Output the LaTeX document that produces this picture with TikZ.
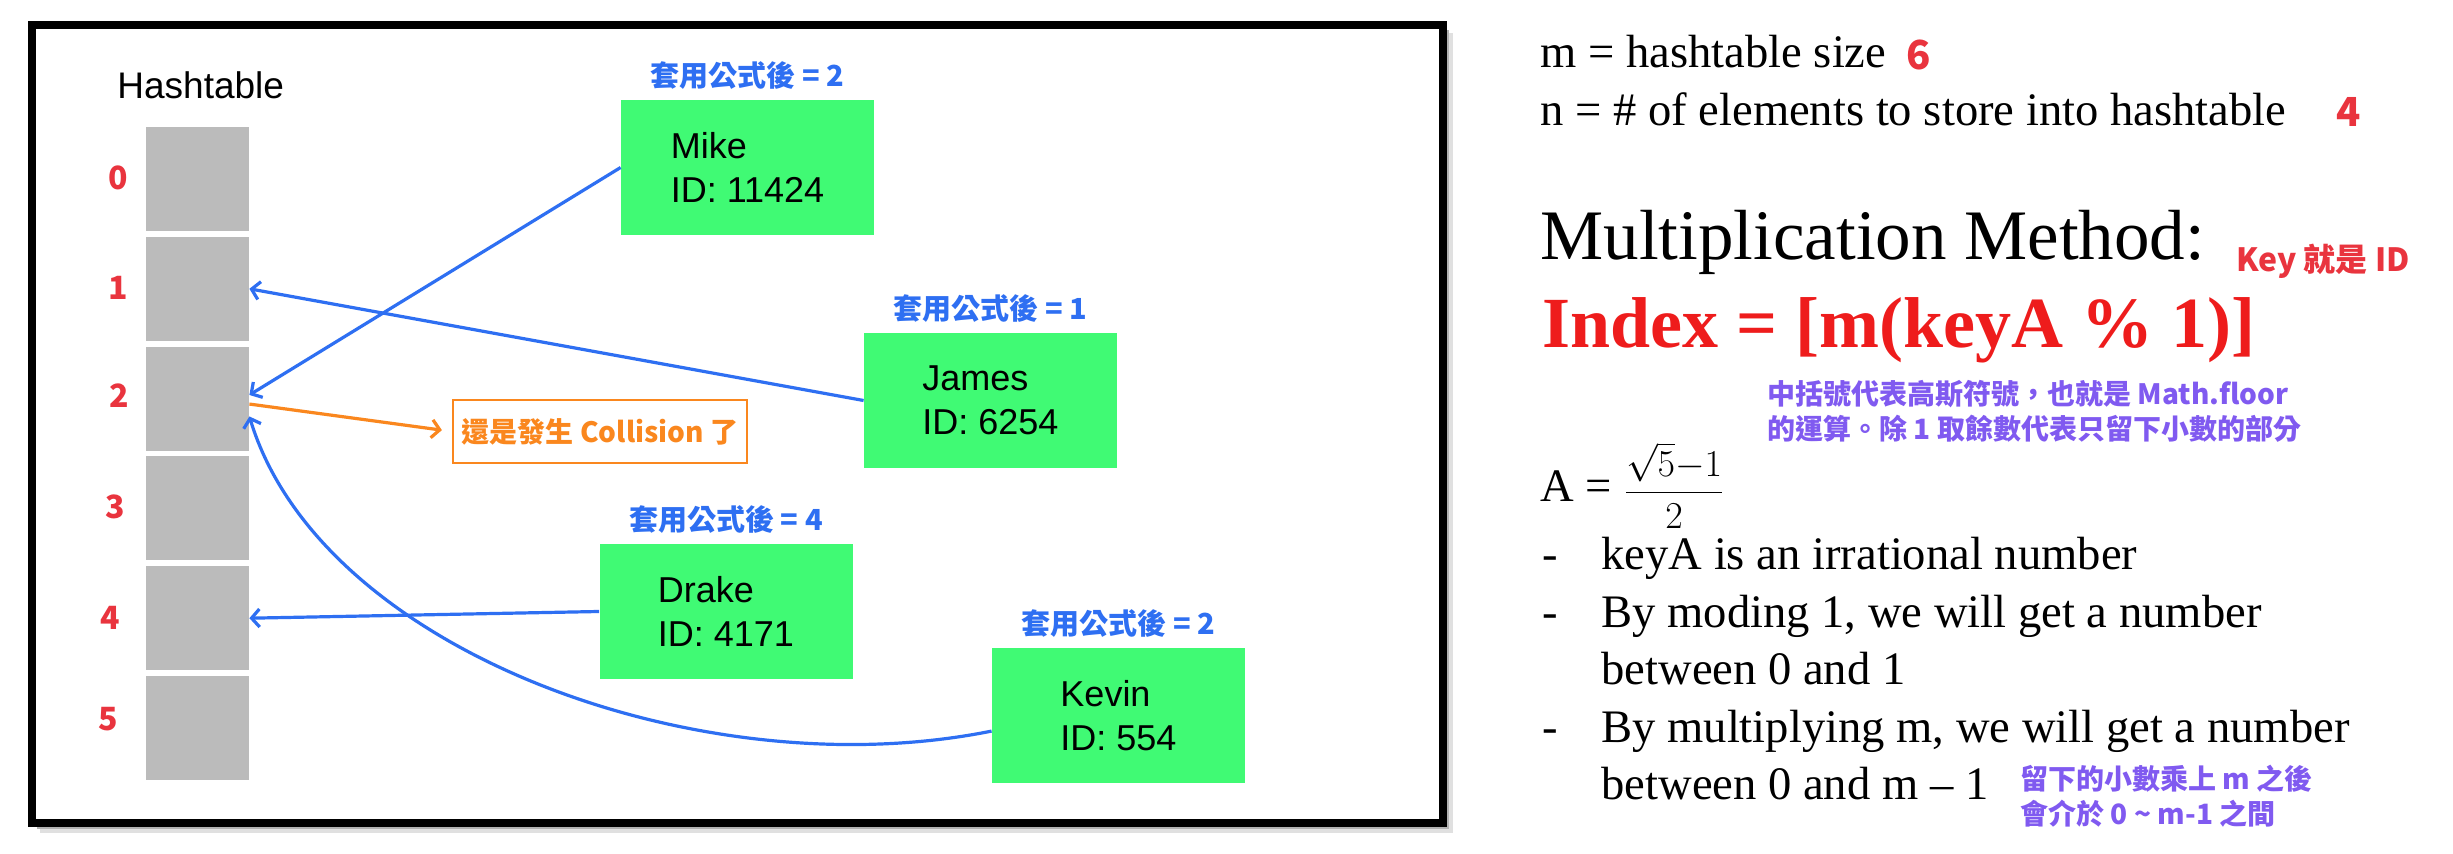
\RequirePackage{fix-cm}
\documentclass[tikz,border=0pt]{standalone}
\usepackage{fontspec}
\setmainfont{Liberation Sans}
\newfontfamily\serifm{Liberation Serif}
\newfontfamily\cjk{Noto Sans CJK TC}
\usetikzlibrary{positioning,arrows.meta}

\definecolor{hblue}{RGB}{46,111,242}
\definecolor{hred}{RGB}{233,52,62}
\definecolor{fred}{RGB}{238,28,28}
\definecolor{horange}{RGB}{250,135,30}
\definecolor{hgreen}{RGB}{64,250,116}
\definecolor{hpurple}{RGB}{128,90,240}
\definecolor{hgray}{RGB}{187,187,187}

\tikzset{
  slotbox/.style={fill=hgray, minimum width=51.5pt, minimum height=52pt, inner sep=0pt},
  idxlabel/.style={text=hred, inner sep=0pt, font=\cjk\bfseries\fontsize{16}{16}\selectfont},
  person/.style={fill=hgreen, minimum width=126.5pt, minimum height=67.5pt, align=left,
    font=\fontsize{18}{22}\selectfont},
  hashlabel/.style={text=hblue, inner sep=0pt, font=\cjk\bfseries\fontsize{14.5}{14.5}\selectfont},
  link/.style={->, hblue, line width=1.6pt},
  note/.style={text=hpurple, anchor=base west, inner sep=0pt, font=\cjk\bfseries\fontsize{14}{14}\selectfont},
  body/.style={anchor=base west, inner sep=0pt, font=\serifm\fontsize{23.3}{23.3}\selectfont},
}

\begin{document}
\begin{tikzpicture}[x=0.5pt, y=-0.5pt, >={Straight Barb[length=4pt,width=9pt]}]
  \useasboundingbox (0,0) rectangle (2453,854);
  % cadre avec ombre
  \fill[black!12] (40,33) rectangle (1453,833);
  \fill[black!30] (37,30) rectangle (1449,829);
  \draw[line width=4pt, fill=white] (32,25) rectangle (1443,823);
  % la table
  \node[anchor=base west, inner sep=0pt, font=\fontsize{18.5}{18.5}\selectfont] (title) at (117,99) {Hashtable};
  \foreach \i in {0,...,5}
    \node[slotbox] (slot\i) at (197.5,{179+109.8*\i}) {};
  \foreach \i/\lx/\ly in {0/118/177.5, 1/118.5/288, 2/119/395.5, 3/115.5/507, 4/110/618, 5/108/719}
    \node[idxlabel] (idx\i) at (\lx,\ly) {\i};
  % les personnes
  \node[person] (mike) at (747.5,167.5) {Mike\\ID: 11424};
  \node[person] (james) at (990.5,400.5) {James\\ID: 6254};
  \node[person] (drake) at (726,611.5) {Drake\\ID: 4171};
  \node[person] (kevin) at (1118.5,715.5) {Kevin\\ID: 554};
  \node[hashlabel, above=5pt of mike] (mikeh) {套用公式後 = 2};
  \node[hashlabel, above=5pt of james] (jamesh) {套用公式後 = 1};
  \node[hashlabel, above=5pt of drake] (drakeh) {套用公式後 = 4};
  \node[hashlabel, above=5pt of kevin] (kevinh) {套用公式後 = 2};
  \node[draw=horange, line width=1.2pt, text=horange, minimum width=147pt, minimum height=31.5pt,
    font=\cjk\bfseries\fontsize{14}{14}\selectfont] (coll) at (600,431.5) {還是發生 Collision 了};
  % fleches
  \draw[link] (mike.west) -- (slot2.4);
  \draw[link] (james.west) -- (slot1.east);
  \draw[link] (drake.west) -- (slot4.east);
  \draw[link] (kevin.187) .. controls (700,790) and (320,650) .. (slot2.-19);
  \draw[->, horange, line width=1.6pt, shorten >=5pt] (slot2.-6) -- (coll.west);
  % texte a droite
  \node[body] (msize) at (1540,68) {m = hashtable size};
  \node[idxlabel, anchor=base west, font=\cjk\bfseries\fontsize{20}{20}\selectfont] (mval) at (1906,70) {6};
  \node[body] (nsize) at (1540,126) {n = \# of elements to store into hashtable};
  \node[idxlabel, anchor=base west, font=\cjk\bfseries\fontsize{20}{20}\selectfont] (nval) at (2336,127) {4};
  \node[body, font=\serifm\fontsize{35.5}{35.5}\selectfont] (method) at (1540,260) {Multiplication Method:};
  \node[idxlabel] (keynote) at (2323,261) {Key 就是 ID};
  \node[body, text=fred, font=\serifm\bfseries\fontsize{36}{36}\selectfont] (formula) at (1542,348) {Index = [m(keyA \% 1)]};
  \node[note] (floor1) at (1767,405) {中括號代表高斯符號，也就是 Math.floor};
  \node[note] (floor2) at (1767,440) {的運算。除 1 取餘數代表只留下小數的部分};
  \node[body] (aval) at (1540,502) {A = {\fontsize{19}{19}\selectfont$\displaystyle\frac{\sqrt{5}{-}1}{2}$}};
  \node[body] (dash1) at (1542,570) {-};
  \node[body] (item1) at (1601,570) {keyA is an irrational number};
  \node[body] (dash2) at (1542,628) {-};
  \node[body] (item2) at (1601,628) {By moding 1, we will get a number};
  \node[body] (item2b) at (1601,685) {between 0 and 1};
  \node[body] (dash3) at (1542,743) {-};
  \node[body] (item3) at (1601,743) {By multiplying m, we will get a number};
  \node[body] (item3b) at (1601,800) {between 0 and m – 1};
  \node[note] (range1) at (2020,790) {留下的小數乘上 m 之後};
  \node[note] (range2) at (2020,825) {會介於 0 \textasciitilde{} m-1 之間};
\end{tikzpicture}
\end{document}
